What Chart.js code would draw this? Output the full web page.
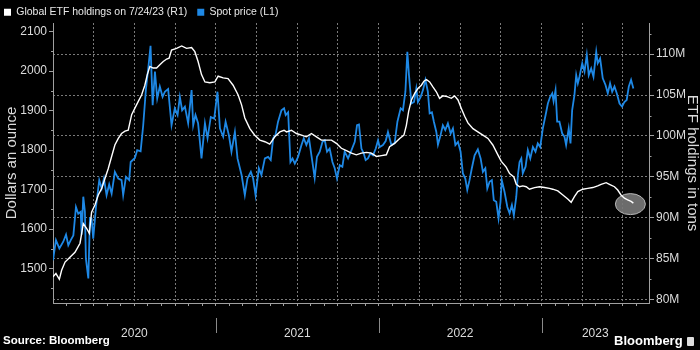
<!DOCTYPE html>
<html>
<head>
<meta charset="utf-8">
<script src="https://cdn.jsdelivr.net/npm/chart.js@4/dist/chart.umd.min.js"></script>
<style>
  html, body { margin: 0; padding: 0; background: #000; }
  #wrap { position: relative; width: 700px; height: 350px; background: #000; overflow: hidden; }
  #src { position: absolute; left: 3px; top: 334px; font: bold 11.5px 'Liberation Sans', Arial, sans-serif; color: #fff; white-space: nowrap; }
  #logo { position: absolute; left: 614px; top: 333px; font: bold 13px 'Liberation Sans', Arial, sans-serif; color: #fff; white-space: nowrap; }
  #logo span { display: inline-block; width: 7px; height: 9px; background: #ddd; border-radius: 1px; margin-left: 4px; vertical-align: -1px; }
</style>
</head>
<body>
<div id="wrap">
  <canvas id="c" width="700" height="350"></canvas>
  <div id="src">Source: Bloomberg</div>
  <div id="logo">Bloomberg<span></span></div>
</div>
<script>
// ---- Data (time in decimal years) ----
const priceTime = [2020.000,2020.018,2020.039,2020.063,2020.080,2020.094,2020.109,2020.125,2020.141,2020.155,2020.170,2020.176,2020.186,2020.196,2020.202,2020.217,2020.227,2020.237,2020.247,2020.264,2020.284,2020.299,2020.313,2020.329,2020.345,2020.360,2020.380,2020.401,2020.421,2020.431,2020.448,2020.468,2020.477,2020.503,2020.517,2020.538,2020.554,2020.571,2020.585,2020.599,2020.612,2020.626,2020.640,2020.656,2020.673,2020.687,2020.707,2020.728,2020.748,2020.765,2020.779,2020.793,2020.810,2020.830,2020.851,2020.861,2020.875,2020.891,2020.912,2020.933,2020.949,2020.969,2020.990,2021.010,2021.025,2021.045,2021.060,2021.080,2021.096,2021.117,2021.133,2021.158,2021.178,2021.194,2021.215,2021.229,2021.244,2021.264,2021.280,2021.301,2021.321,2021.337,2021.352,2021.366,2021.382,2021.403,2021.419,2021.429,2021.444,2021.458,2021.471,2021.485,2021.505,2021.526,2021.540,2021.556,2021.572,2021.587,2021.607,2021.621,2021.638,2021.655,2021.669,2021.683,2021.699,2021.716,2021.730,2021.744,2021.761,2021.777,2021.791,2021.812,2021.833,2021.853,2021.867,2021.879,2021.894,2021.908,2021.920,2021.934,2021.949,2021.965,2021.982,2021.996,2022.006,2022.026,2022.043,2022.057,2022.078,2022.098,2022.115,2022.135,2022.149,2022.164,2022.176,2022.186,2022.201,2022.217,2022.231,2022.241,2022.258,2022.272,2022.287,2022.302,2022.313,2022.327,2022.339,2022.354,2022.364,2022.380,2022.394,2022.409,2022.425,2022.442,2022.456,2022.471,2022.487,2022.503,2022.517,2022.532,2022.544,2022.558,2022.572,2022.589,2022.609,2022.626,2022.640,2022.655,2022.667,2022.681,2022.695,2022.707,2022.722,2022.736,2022.748,2022.756,2022.773,2022.790,2022.804,2022.818,2022.830,2022.845,2022.855,2022.865,2022.876,2022.885,2022.902,2022.916,2022.931,2022.947,2022.963,2022.977,2022.992,2023.008,2023.025,2023.039,2023.053,2023.066,2023.074,2023.086,2023.096,2023.110,2023.127,2023.141,2023.151,2023.167,2023.178,2023.188,2023.202,2023.213,2023.223,2023.233,2023.250,2023.264,2023.278,2023.290,2023.305,2023.319,2023.336,2023.345,2023.360,2023.376,2023.393,2023.407,2023.421,2023.434,2023.448,2023.462,2023.479,2023.495,2023.509,2023.523,2023.536,2023.550,2023.564];
const spotPrice = [1521,1572,1551,1568,1586,1559,1572,1584,1656,1639,1644,1586,1682,1644,1525,1475,1628,1627,1576,1656,1724,1703,1728,1686,1713,1690,1745,1728,1724,1686,1732,1724,1770,1780,1800,1797,1863,1956,2007,2064,1914,1999,1931,1961,1935,1948,1955,1863,1906,1889,1935,1901,1910,1868,1952,1863,1889,1868,1779,1868,1830,1884,1880,1948,1855,1834,1872,1838,1796,1846,1779,1737,1686,1728,1745,1728,1686,1754,1737,1779,1783,1775,1830,1838,1872,1901,1906,1889,1896,1770,1779,1766,1783,1813,1830,1813,1830,1787,1730,1783,1796,1821,1825,1796,1804,1770,1754,1728,1762,1758,1796,1779,1800,1821,1863,1865,1804,1792,1775,1779,1792,1787,1804,1825,1808,1813,1823,1846,1813,1818,1872,1906,1901,1948,2049,1990,1918,1922,1956,1922,1935,1952,1978,1948,1893,1896,1872,1846,1814,1838,1863,1851,1868,1842,1855,1813,1821,1796,1741,1728,1699,1724,1754,1787,1802,1779,1745,1754,1703,1720,1724,1673,1669,1627,1669,1724,1694,1656,1640,1661,1635,1682,1737,1770,1779,1741,1758,1800,1779,1808,1796,1817,1808,1855,1889,1918,1935,1944,1924,1952,1872,1872,1842,1834,1813,1855,1817,1901,1939,1990,1969,1986,2020,1999,2041,1990,2007,1986,2049,2020,2032,1982,1965,1944,1969,1948,1961,1944,1918,1910,1922,1927,1961,1978,1956];

const etfTime = [2020.000,2020.018,2020.039,2020.053,2020.074,2020.104,2020.135,2020.166,2020.186,2020.207,2020.223,2020.237,2020.258,2020.278,2020.299,2020.319,2020.339,2020.360,2020.380,2020.401,2020.421,2020.442,2020.462,2020.483,2020.503,2020.523,2020.544,2020.564,2020.579,2020.595,2020.615,2020.636,2020.656,2020.677,2020.698,2020.713,2020.728,2020.759,2020.790,2020.820,2020.851,2020.871,2020.891,2020.912,2020.933,2020.963,2020.994,2021.014,2021.045,2021.075,2021.106,2021.137,2021.158,2021.178,2021.209,2021.239,2021.270,2021.301,2021.331,2021.362,2021.393,2021.419,2021.434,2021.464,2021.495,2021.526,2021.556,2021.587,2021.618,2021.648,2021.679,2021.710,2021.740,2021.771,2021.802,2021.833,2021.863,2021.894,2021.925,2021.955,2021.986,2022.017,2022.047,2022.067,2022.098,2022.129,2022.155,2022.170,2022.184,2022.201,2022.221,2022.241,2022.262,2022.278,2022.293,2022.313,2022.333,2022.354,2022.374,2022.394,2022.421,2022.446,2022.466,2022.487,2022.507,2022.528,2022.548,2022.579,2022.609,2022.640,2022.671,2022.701,2022.732,2022.753,2022.783,2022.804,2022.830,2022.845,2022.865,2022.885,2022.906,2022.926,2022.957,2022.988,2023.018,2023.049,2023.069,2023.100,2023.131,2023.161,2023.182,2023.202,2023.223,2023.253,2023.284,2023.315,2023.345,2023.366,2023.397,2023.417,2023.448,2023.468,2023.488,2023.509,2023.529,2023.550,2023.564];
const etfHoldings = [82.8,83.2,82.5,83.6,84.6,85.2,85.8,86.9,89.3,88.7,88.1,90.7,91.6,92.8,93.6,94.8,96.0,97.5,98.9,99.7,100.3,100.6,100.7,102.6,103.4,104.2,105.0,106.2,107.5,108.5,108.3,108.3,108.7,109.1,109.4,109.5,110.5,110.7,111.0,110.7,110.8,110.3,109.1,107.5,106.6,106.5,106.6,107.3,107.1,107.0,106.2,105.0,103.8,102.2,100.9,100.1,99.5,99.3,99.0,99.9,100.5,100.7,100.5,100.7,100.3,100.1,99.9,100.3,99.9,99.5,99.5,99.5,99.1,98.5,98.2,97.9,97.7,97.9,98.0,97.9,97.5,97.6,97.7,98.7,99.1,99.7,100.1,101.3,103.0,104.4,105.2,105.8,106.2,106.7,106.9,106.6,106.0,105.4,104.6,104.9,104.8,104.6,104.9,104.4,103.4,102.4,101.6,100.9,100.5,100.1,99.7,98.9,97.7,96.9,96.2,95.4,95.0,94.1,93.8,93.9,93.8,93.5,93.7,93.8,93.7,93.6,93.5,93.3,92.8,92.3,91.9,92.6,93.2,93.5,93.6,93.7,93.9,94.1,94.3,94.1,93.8,93.4,92.8,92.4,92.2,92.0,91.8];

const leftTicks = [1500, 1600, 1700, 1800, 1900, 2000, 2100];
const rightTicks = [80, 85, 90, 95, 100, 105, 110];
const yearLabels = ['2020', '2021', '2022', '2023'];
const seriesNames = ['Global ETF holdings on 7/24/23 (R1)', 'Spot price (L1)'];
const axisTitles = ['Dollars an ounce', 'ETF holdings in tons'];

// ---- Options ----
const FONT = "'Liberation Sans', Arial, sans-serif";
const X_MIN = 2020.0, X_MAX = 2023.66;
const L_MIN = 1412.8, L_MAX = 2122;
const R_MIN = 79.6, R_MAX = 113.8;
const GRID = '#7a7a7a';
const AXIS = '#a0a0a0';
const TXT = '#dcdcdc';
const BLUE = '#1e88e5';

const monthTicks = [];
for (let k = 1; k < 12 * 4; k++) { const v = 2020 + k / 12; if (v < X_MAX) monthTicks.push(v); }
const isQuarter = v => Math.abs(Math.round((v - 2020) * 12) % 3) === 0;
const yearCenters = [2020.5, 2021.5, 2022.5, (2023 + X_MAX) / 2];
const yearBounds = [2021, 2022, 2023];

const decor = {
  id: 'decor',
  beforeDatasetsDraw(chart) {
    const ctx = chart.ctx, x = chart.scales.x, y2 = chart.scales.y2;
    const n = etfTime.length - 1;
    const px = x.getPixelForValue(etfTime[n]), py = y2.getPixelForValue(etfHoldings[n]);
    ctx.save();
    ctx.beginPath();
    ctx.ellipse(px - 3, py + 1, 15, 10.5, 0, 0, Math.PI * 2);
    ctx.fillStyle = 'rgba(120,120,120,0.9)';
    ctx.fill();
    ctx.lineWidth = 1;
    ctx.strokeStyle = '#b5b5b5';
    ctx.stroke();
    ctx.restore();
  },
  afterDraw(chart) {
    const ctx = chart.ctx, s = chart.scales;
    ctx.save();
    ctx.strokeStyle = AXIS;
    ctx.lineWidth = 1;
    for (let v = 1450; v <= 2100; v += 100) {
      const p = Math.round(s.y.getPixelForValue(v)) + 0.5;
      ctx.beginPath(); ctx.moveTo(s.y.right - 2, p); ctx.lineTo(s.y.right, p); ctx.stroke();
    }
    for (let v = 82.5; v <= 112.5; v += 5) {
      const p = Math.round(s.y2.getPixelForValue(v)) + 0.5;
      ctx.beginPath(); ctx.moveTo(s.y2.left, p); ctx.lineTo(s.y2.left + 2.5, p); ctx.stroke();
    }
    ctx.strokeStyle = '#8a8a8a';
    yearBounds.forEach(v => {
      const p = Math.round(s.x2.getPixelForValue(v)) + 0.5;
      ctx.beginPath(); ctx.moveTo(p, 318); ctx.lineTo(p, 333); ctx.stroke();
    });
    ctx.restore();
  }
};

const chart = new Chart(document.getElementById('c'), {
  type: 'line',
  data: {
    datasets: [
      {
        label: seriesNames[0],
        data: etfTime.map((t, i) => ({ x: t, y: etfHoldings[i] })),
        yAxisID: 'y2', xAxisID: 'x',
        borderColor: '#ffffff', backgroundColor: '#ffffff',
        borderWidth: 1.4, pointRadius: 0, tension: 0
      },
      {
        label: seriesNames[1],
        data: priceTime.map((t, i) => ({ x: t, y: spotPrice[i] })),
        yAxisID: 'y', xAxisID: 'x',
        borderColor: BLUE, backgroundColor: BLUE,
        borderWidth: 1.8, pointRadius: 0, tension: 0
      }
    ]
  },
  options: {
    responsive: false,
    animation: false,
    devicePixelRatio: 1,
    layout: { padding: { top: -3, left: -6, right: 0, bottom: 12 } },
    plugins: {
      tooltip: { enabled: false },
      legend: {
        display: true, position: 'top', align: 'start', maxHeight: 26,
        labels: {
          color: '#e8e8e8', font: { family: FONT, size: 10.5 },
          boxWidth: 7, boxHeight: 7, padding: 10,
          generateLabels: (c) => Chart.defaults.plugins.legend.labels.generateLabels(c).map(l => Object.assign(l, { lineWidth: 0 }))
        }
      }
    },
    scales: {
      x: {
        type: 'linear', position: 'bottom', min: X_MIN, max: X_MAX,
        afterBuildTicks: sc => { sc.ticks = monthTicks.map(v => ({ value: v })); },
        ticks: { display: false },
        grid: {
          display: true, drawOnChartArea: true, drawTicks: true, tickLength: 3,
          color: c => (c.tick && isQuarter(c.tick.value)) ? GRID : 'rgba(0,0,0,0)',
          tickColor: AXIS, lineWidth: 1
        },
        border: { display: true, color: AXIS, dash: [2, 2] },
        afterFit: sc => { sc.height = 5; }
      },
      x2: {
        type: 'linear', position: 'bottom', min: X_MIN, max: X_MAX,
        afterBuildTicks: sc => { sc.ticks = yearCenters.map(v => ({ value: v })); },
        ticks: {
          color: TXT, font: { family: FONT, size: 12 }, padding: 10,
          autoSkip: false, maxRotation: 0,
          callback: (v, i) => yearLabels[i]
        },
        grid: { display: false },
        border: { display: false },
        afterFit: sc => { sc.height = 30; }
      },
      y: {
        type: 'linear', position: 'left', min: L_MIN, max: L_MAX,
        afterBuildTicks: sc => { sc.ticks = leftTicks.map(v => ({ value: v })); },
        ticks: { color: TXT, font: { family: FONT, size: 12 }, padding: 2, callback: v => String(v) },
        grid: { display: true, drawOnChartArea: false, drawTicks: true, tickLength: 4, tickColor: AXIS },
        border: { display: true, color: AXIS },
        title: { display: true, text: axisTitles[0], color: TXT, font: { family: FONT, size: 15 }, padding: { top: 9, bottom: 0 } },
        afterFit: sc => { sc.width = 59; }
      },
      y2: {
        type: 'linear', position: 'right', min: R_MIN, max: R_MAX,
        afterBuildTicks: sc => { sc.ticks = rightTicks.map(v => ({ value: v })); },
        ticks: { color: TXT, font: { family: FONT, size: 12 }, padding: 2, callback: v => v + 'M' },
        grid: { display: true, drawOnChartArea: true, drawTicks: true, tickLength: 5, color: GRID, tickColor: AXIS },
        border: { display: true, color: AXIS, dash: [2, 2] },
        title: { display: true, text: axisTitles[1], color: TXT, font: { family: FONT, size: 15, lineHeight: 1 }, padding: { top: 0, bottom: 0 } },
        afterFit: sc => { sc.width = 51; }
      }
    }
  },
  plugins: [decor]
});
</script>
</body>
</html>
